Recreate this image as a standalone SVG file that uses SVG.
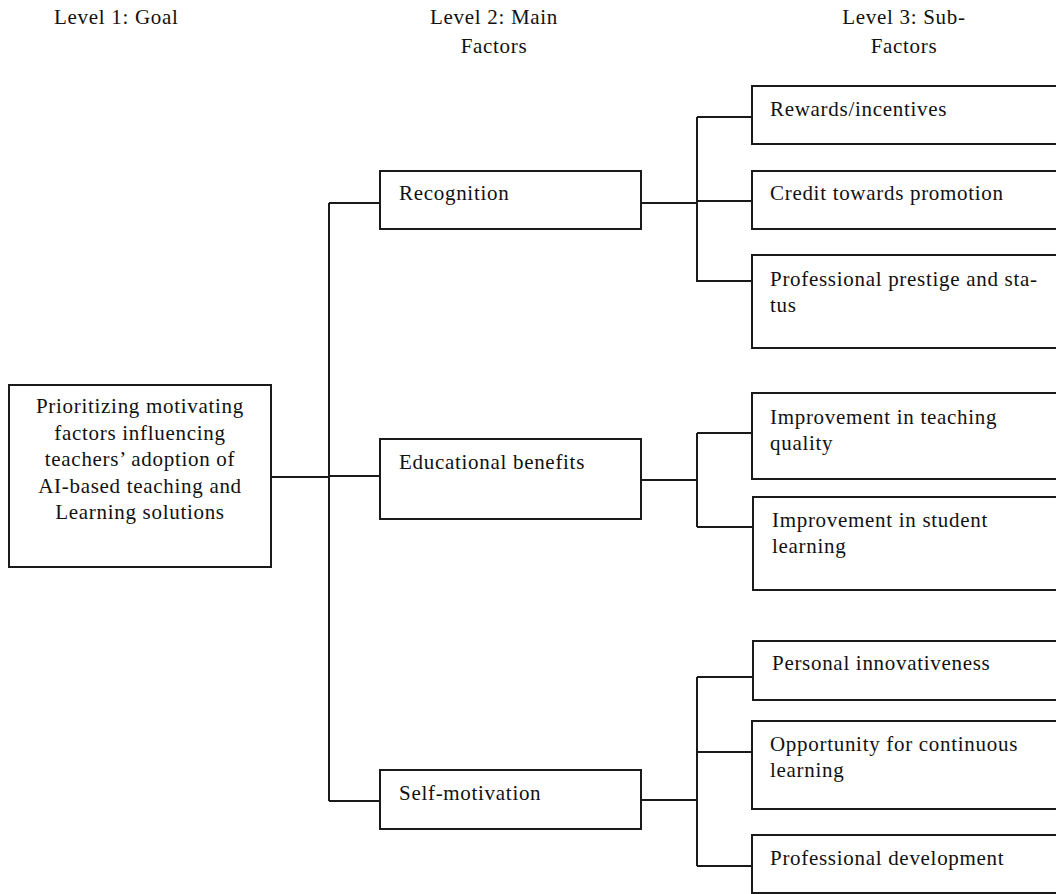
<svg xmlns="http://www.w3.org/2000/svg" width="1056" height="894" viewBox="0 0 1056 894" font-family="Liberation Serif, DejaVu Serif, serif">
<style>
text{font-family:'Liberation Serif','DejaVu Serif','Noto Serif',serif;font-size:21px;fill:#111;letter-spacing:0.7px}
.box{fill:#fff;stroke:#1a1a1a;stroke-width:2}
.c{fill:none;stroke:#1a1a1a;stroke-width:2}
.m{text-anchor:middle}
</style>
<rect width="1056" height="894" fill="#fff"/>
<g id="headers">
<text x="54" y="24">Level 1: Goal</text>
<text class="m" x="494" y="24">Level 2: Main</text>
<text class="m" x="494" y="53">Factors</text>
<text class="m" x="904" y="24">Level 3: Sub-</text>
<text class="m" x="904" y="53">Factors</text>
</g>
<g id="connectors">
<path class="c" d="M271 477H329M329 203V801M329 203H380M329 476H380M329 801H380"/>
<path class="c" d="M641 203H697M697 117V282M697 117H752M697 201H752M697 281H752"/>
<path class="c" d="M641 480H697M697 433V527M697 433H752M697 527H752"/>
<path class="c" d="M641 800H697M697 677V866M697 677H752M697 752H752M697 866H752"/>
</g>
<g id="goal">
<rect class="box" x="9" y="385" width="262" height="182"/>
<text class="m" x="140" y="413">Prioritizing motivating</text>
<text class="m" x="140" y="440">factors influencing</text>
<text class="m" x="140" y="466">teachers’ adoption of</text>
<text class="m" x="140" y="493">AI-based teaching and</text>
<text class="m" x="140" y="519">Learning solutions</text>
</g>
<g id="recognition">
<rect class="box" x="380" y="171" width="261" height="58"/>
<text x="399" y="200">Recognition</text>
</g>
<g id="educational-benefits">
<rect class="box" x="380" y="439" width="261" height="80"/>
<text x="399" y="469">Educational benefits</text>
</g>
<g id="self-motivation">
<rect class="box" x="380" y="770" width="261" height="59"/>
<text x="399" y="800">Self-motivation</text>
</g>
<g id="rewards">
<rect class="box" x="752" y="86" width="310" height="58"/>
<text x="770" y="116">Rewards/incentives</text>
</g>
<g id="credit">
<rect class="box" x="752" y="171" width="310" height="58"/>
<text x="770" y="200">Credit towards promotion</text>
</g>
<g id="prestige">
<rect class="box" x="752" y="255" width="310" height="93"/>
<text x="770" y="286">Professional prestige and sta-</text>
<text x="770" y="312">tus</text>
</g>
<g id="teaching-quality">
<rect class="box" x="752" y="393" width="310" height="86"/>
<text x="770" y="424">Improvement in teaching</text>
<text x="770" y="450">quality</text>
</g>
<g id="student-learning">
<rect class="box" x="753" y="497" width="310" height="93"/>
<text x="772" y="527">Improvement in student</text>
<text x="772" y="553">learning</text>
</g>
<g id="innovativeness">
<rect class="box" x="753" y="641" width="310" height="59"/>
<text x="772" y="670">Personal innovativeness</text>
</g>
<g id="continuous-learning">
<rect class="box" x="752" y="721" width="310" height="88"/>
<text x="770" y="751">Opportunity for continuous</text>
<text x="770" y="777">learning</text>
</g>
<g id="professional-development">
<rect class="box" x="752" y="835" width="310" height="58"/>
<text x="770" y="865">Professional development</text>
</g>
</svg>
